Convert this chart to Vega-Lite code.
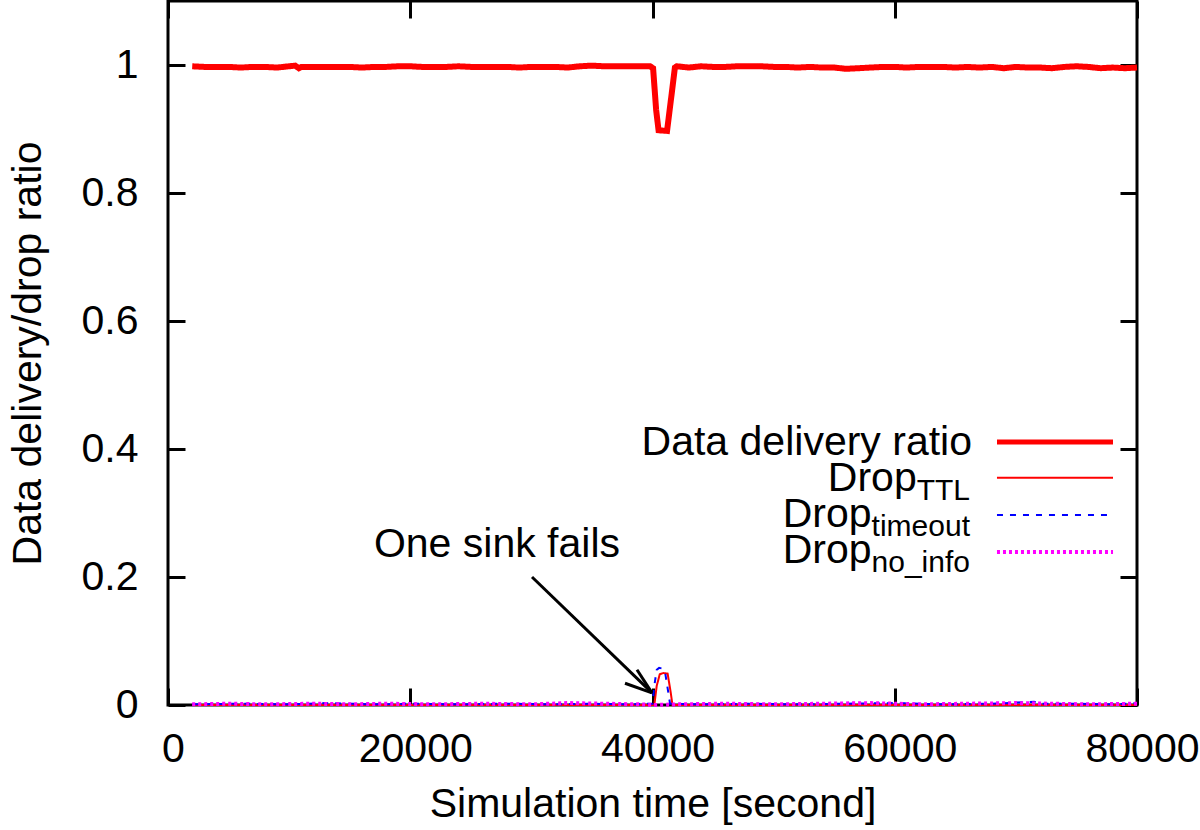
{
  "$schema": "https://vega.github.io/schema/vega-lite/v6.json",
  "width": 969,
  "height": 704,
  "autosize": {"type": "none"},
  "padding": {"left": 168, "top": 1, "right": 63, "bottom": 125},
  "background": "white",
  "config": {
    "view": {"stroke": "#000", "strokeWidth": 3},
    "axis": {
      "grid": false, "domain": false, "tickColor": "#000", "tickWidth": 3, "tickSize": -17, "labelFlush": false, "labelOverlap": false, "labelBound": false,
      "labelFont": "Liberation Sans", "labelFontSize": 41, "labelColor": "#000",
      "titleFont": "Liberation Sans", "titleFontSize": 41, "titleFontWeight": "normal", "titleColor": "#000"
    },
    "text": {"font": "Liberation Sans", "color": "#000"}
  },
  "datasets": {
    "series": [
      {"s": "d", "x": 2000, "y": 0.998}, {"s": "d", "x": 3000, "y": 0.997}, {"s": "d", "x": 4000, "y": 0.997}, {"s": "d", "x": 5000, "y": 0.997},
      {"s": "d", "x": 6000, "y": 0.996}, {"s": "d", "x": 7000, "y": 0.997}, {"s": "d", "x": 8000, "y": 0.997}, {"s": "d", "x": 9000, "y": 0.996},
      {"s": "d", "x": 10000, "y": 0.998}, {"s": "d", "x": 10500, "y": 0.999}, {"s": "d", "x": 10800, "y": 0.995}, {"s": "d", "x": 11000, "y": 0.997},
      {"s": "d", "x": 12000, "y": 0.997}, {"s": "d", "x": 13000, "y": 0.997}, {"s": "d", "x": 14000, "y": 0.997}, {"s": "d", "x": 15000, "y": 0.997},
      {"s": "d", "x": 16000, "y": 0.996}, {"s": "d", "x": 17000, "y": 0.997}, {"s": "d", "x": 18000, "y": 0.997}, {"s": "d", "x": 19000, "y": 0.998},
      {"s": "d", "x": 20000, "y": 0.998}, {"s": "d", "x": 21000, "y": 0.997}, {"s": "d", "x": 22000, "y": 0.997}, {"s": "d", "x": 23000, "y": 0.997},
      {"s": "d", "x": 24000, "y": 0.998}, {"s": "d", "x": 25000, "y": 0.997}, {"s": "d", "x": 26000, "y": 0.997}, {"s": "d", "x": 27000, "y": 0.997},
      {"s": "d", "x": 28000, "y": 0.997}, {"s": "d", "x": 29000, "y": 0.996}, {"s": "d", "x": 30000, "y": 0.997}, {"s": "d", "x": 31000, "y": 0.997},
      {"s": "d", "x": 32000, "y": 0.997}, {"s": "d", "x": 33000, "y": 0.996}, {"s": "d", "x": 34000, "y": 0.998}, {"s": "d", "x": 35000, "y": 0.999},
      {"s": "d", "x": 36000, "y": 0.998}, {"s": "d", "x": 37000, "y": 0.998}, {"s": "d", "x": 38000, "y": 0.998}, {"s": "d", "x": 39000, "y": 0.998},
      {"s": "d", "x": 39800, "y": 0.998}, {"s": "d", "x": 40050, "y": 0.995}, {"s": "d", "x": 40300, "y": 0.93}, {"s": "d", "x": 40500, "y": 0.898},
      {"s": "d", "x": 41200, "y": 0.897}, {"s": "d", "x": 41550, "y": 0.95}, {"s": "d", "x": 41850, "y": 0.996}, {"s": "d", "x": 42000, "y": 0.998},
      {"s": "d", "x": 43000, "y": 0.996}, {"s": "d", "x": 44000, "y": 0.998}, {"s": "d", "x": 45000, "y": 0.997}, {"s": "d", "x": 46000, "y": 0.997},
      {"s": "d", "x": 47000, "y": 0.998}, {"s": "d", "x": 48000, "y": 0.998}, {"s": "d", "x": 49000, "y": 0.998}, {"s": "d", "x": 50000, "y": 0.997},
      {"s": "d", "x": 51000, "y": 0.997}, {"s": "d", "x": 52000, "y": 0.996}, {"s": "d", "x": 53000, "y": 0.997}, {"s": "d", "x": 54000, "y": 0.996},
      {"s": "d", "x": 55000, "y": 0.996}, {"s": "d", "x": 56000, "y": 0.994}, {"s": "d", "x": 57000, "y": 0.995}, {"s": "d", "x": 58000, "y": 0.996},
      {"s": "d", "x": 59000, "y": 0.997}, {"s": "d", "x": 60000, "y": 0.997}, {"s": "d", "x": 61000, "y": 0.996}, {"s": "d", "x": 62000, "y": 0.997},
      {"s": "d", "x": 63000, "y": 0.997}, {"s": "d", "x": 64000, "y": 0.997}, {"s": "d", "x": 65000, "y": 0.996}, {"s": "d", "x": 66000, "y": 0.997},
      {"s": "d", "x": 67000, "y": 0.996}, {"s": "d", "x": 68000, "y": 0.997}, {"s": "d", "x": 69000, "y": 0.995}, {"s": "d", "x": 70000, "y": 0.997},
      {"s": "d", "x": 71000, "y": 0.996}, {"s": "d", "x": 72000, "y": 0.996}, {"s": "d", "x": 73000, "y": 0.995}, {"s": "d", "x": 74000, "y": 0.997},
      {"s": "d", "x": 75000, "y": 0.998}, {"s": "d", "x": 76000, "y": 0.997}, {"s": "d", "x": 77000, "y": 0.995}, {"s": "d", "x": 78000, "y": 0.996},
      {"s": "d", "x": 79000, "y": 0.995}, {"s": "d", "x": 80000, "y": 0.996},
      {"s": "ttl", "x": 2000, "y": 0}, {"s": "ttl", "x": 40150, "y": 0}, {"s": "ttl", "x": 40350, "y": 0.03}, {"s": "ttl", "x": 40600, "y": 0.048},
      {"s": "ttl", "x": 40900, "y": 0.05}, {"s": "ttl", "x": 41250, "y": 0.049}, {"s": "ttl", "x": 41500, "y": 0.02}, {"s": "ttl", "x": 41650, "y": 0},
      {"s": "ttl", "x": 80000, "y": 0},
      {"s": "to", "x": 2000, "y": 0.001}, {"s": "to", "x": 6000, "y": 0.002}, {"s": "to", "x": 10000, "y": 0.001}, {"s": "to", "x": 13000, "y": 0.003},
      {"s": "to", "x": 17000, "y": 0.001}, {"s": "to", "x": 20000, "y": 0.002}, {"s": "to", "x": 24000, "y": 0.001}, {"s": "to", "x": 28000, "y": 0.002},
      {"s": "to", "x": 32000, "y": 0.001}, {"s": "to", "x": 35000, "y": 0.002}, {"s": "to", "x": 38000, "y": 0.001}, {"s": "to", "x": 40000, "y": 0.002},
      {"s": "to", "x": 40150, "y": 0.03}, {"s": "to", "x": 40350, "y": 0.055}, {"s": "to", "x": 40550, "y": 0.058}, {"s": "to", "x": 40800, "y": 0.057},
      {"s": "to", "x": 41050, "y": 0.05}, {"s": "to", "x": 41300, "y": 0.02}, {"s": "to", "x": 41450, "y": 0.002}, {"s": "to", "x": 44000, "y": 0.001},
      {"s": "to", "x": 48000, "y": 0.002}, {"s": "to", "x": 52000, "y": 0.001}, {"s": "to", "x": 56000, "y": 0.002}, {"s": "to", "x": 60000, "y": 0.003},
      {"s": "to", "x": 64000, "y": 0.001}, {"s": "to", "x": 68000, "y": 0.002}, {"s": "to", "x": 71500, "y": 0.005}, {"s": "to", "x": 72000, "y": 0.002},
      {"s": "to", "x": 75000, "y": 0.002}, {"s": "to", "x": 78000, "y": 0.001}, {"s": "to", "x": 80000, "y": 0.003},
      {"s": "ni", "x": 2000, "y": 0.001}, {"s": "ni", "x": 5000, "y": 0.002}, {"s": "ni", "x": 8000, "y": 0.001}, {"s": "ni", "x": 12000, "y": 0.002},
      {"s": "ni", "x": 15000, "y": 0.001}, {"s": "ni", "x": 18000, "y": 0.002}, {"s": "ni", "x": 22000, "y": 0.001}, {"s": "ni", "x": 26000, "y": 0.002},
      {"s": "ni", "x": 30000, "y": 0.001}, {"s": "ni", "x": 33000, "y": 0.003}, {"s": "ni", "x": 36000, "y": 0.002}, {"s": "ni", "x": 39000, "y": 0.001},
      {"s": "ni", "x": 40000, "y": 0.0}, {"s": "ni", "x": 42000, "y": 0.001}, {"s": "ni", "x": 46000, "y": 0.002}, {"s": "ni", "x": 50000, "y": 0.001},
      {"s": "ni", "x": 54000, "y": 0.002}, {"s": "ni", "x": 58000, "y": 0.003}, {"s": "ni", "x": 60000, "y": 0.002}, {"s": "ni", "x": 62000, "y": 0.001},
      {"s": "ni", "x": 66000, "y": 0.002}, {"s": "ni", "x": 70000, "y": 0.003}, {"s": "ni", "x": 73000, "y": 0.002}, {"s": "ni", "x": 76000, "y": 0.001},
      {"s": "ni", "x": 80000, "y": 0.002}
    ],
    "legendLines": [
      {"s": "d", "x": 68440, "x2": 78020, "y": 0.411},
      {"s": "ttl", "x": 68440, "x2": 78020, "y": 0.355},
      {"s": "to", "x": 68440, "x2": 78020, "y": 0.297},
      {"s": "ni", "x": 68440, "x2": 78020, "y": 0.239}
    ],
    "mainText": [
      {"t": "Data delivery ratio", "x": 66378, "y": 0.390},
      {"t": "Drop", "x": 61813, "y": 0.334},
      {"t": "Drop", "x": 58089, "y": 0.278},
      {"t": "Drop", "x": 58089, "y": 0.222},
      {"t": "One sink fails", "x": 37317, "y": 0.231}
    ],
    "subText": [
      {"t": "TTL", "x": 66213, "y": 0.320},
      {"t": "timeout", "x": 66213, "y": 0.264},
      {"t": "no_info", "x": 66213, "y": 0.208}
    ],
    "arrow": [
      {"x": 30052, "y": 0.2, "x2": 39959, "y2": 0.019},
      {"x": 38720, "y": 0.055, "x2": 39959, "y2": 0.019},
      {"x": 37729, "y": 0.034, "x2": 39959, "y2": 0.019}
    ]
  },
  "layer": [
    {
      "data": {"name": "series"},
      "mark": {"type": "line"},
      "encoding": {
        "x": {"field": "x", "type": "quantitative", "scale": {"domain": [0, 80000], "nice": false, "zero": false},
              "axis": {"orient": "bottom", "values": [0, 20000, 40000, 60000, 80000], "format": "d", "title": "Simulation time [second]", "labelPadding": 41, "labelOffset": 5, "titlePadding": 15}},
        "y": {"field": "y", "type": "quantitative", "scale": {"domain": [0, 1.1], "nice": false, "zero": false},
              "axis": {"orient": "left", "values": [0, 0.2, 0.4, 0.6, 0.8, 1], "format": "~g", "title": "Data delivery/drop ratio", "labelPadding": 47, "titlePadding": 32}},
        "detail": {"field": "s", "type": "nominal"},
        "color": {"field": "s", "type": "nominal", "scale": {"domain": ["d", "ttl", "to", "ni"], "range": ["#ff0000", "#ff0000", "#0000ff", "#ff00ff"]}, "legend": null},
        "strokeWidth": {"condition": [{"test": "datum.s === 'd'", "value": 6}, {"test": "datum.s === 'ni'", "value": 4}], "value": 2},
        "strokeDash": {"condition": [{"test": "datum.s === 'to'", "value": [6, 7]}, {"test": "datum.s === 'ni'", "value": [3, 3]}], "value": [1, 0]}
      }
    },
    {
      "data": {"name": "legendLines"},
      "mark": {"type": "rule"},
      "encoding": {
        "x": {"field": "x", "type": "quantitative", "scale": {"domain": [0, 80000], "nice": false, "zero": false}, "axis": null},
        "x2": {"field": "x2"},
        "y": {"field": "y", "type": "quantitative", "scale": {"domain": [0, 1.1], "nice": false, "zero": false}, "axis": null},
        "color": {"field": "s", "type": "nominal", "scale": {"domain": ["d", "ttl", "to", "ni"], "range": ["#ff0000", "#ff0000", "#0000ff", "#ff00ff"]}, "legend": null},
        "strokeWidth": {"condition": [{"test": "datum.s === 'd'", "value": 5}, {"test": "datum.s === 'ni'", "value": 4}], "value": 2},
        "strokeDash": {"condition": [{"test": "datum.s === 'to'", "value": [6, 7]}, {"test": "datum.s === 'ni'", "value": [3, 3]}], "value": [1, 0]}
      }
    },
    {
      "data": {"name": "mainText"},
      "mark": {"type": "text", "fontSize": 41, "align": "right", "baseline": "alphabetic", "font": "Liberation Sans", "color": "#000"},
      "encoding": {
        "x": {"field": "x", "type": "quantitative", "scale": {"domain": [0, 80000], "nice": false, "zero": false}, "axis": null},
        "y": {"field": "y", "type": "quantitative", "scale": {"domain": [0, 1.1], "nice": false, "zero": false}, "axis": null},
        "text": {"field": "t"}
      }
    },
    {
      "data": {"name": "subText"},
      "mark": {"type": "text", "fontSize": 30, "align": "right", "baseline": "alphabetic", "font": "Liberation Sans", "color": "#000"},
      "encoding": {
        "x": {"field": "x", "type": "quantitative", "scale": {"domain": [0, 80000], "nice": false, "zero": false}, "axis": null},
        "y": {"field": "y", "type": "quantitative", "scale": {"domain": [0, 1.1], "nice": false, "zero": false}, "axis": null},
        "text": {"field": "t"}
      }
    },
    {
      "data": {"name": "arrow"},
      "mark": {"type": "rule", "color": "#000", "strokeWidth": 3},
      "encoding": {
        "x": {"field": "x", "type": "quantitative", "scale": {"domain": [0, 80000], "nice": false, "zero": false},
              "axis": {"orient": "top", "values": [0, 20000, 40000, 60000, 80000], "labels": false, "title": null}},
        "x2": {"field": "x2"},
        "y": {"field": "y", "type": "quantitative", "scale": {"domain": [0, 1.1], "nice": false, "zero": false},
              "axis": {"orient": "right", "values": [0, 0.2, 0.4, 0.6, 0.8, 1], "labels": false, "title": null}},
        "y2": {"field": "y2"}
      }
    }
  ],
  "resolve": {"axis": {"x": "independent", "y": "independent"}}
}
